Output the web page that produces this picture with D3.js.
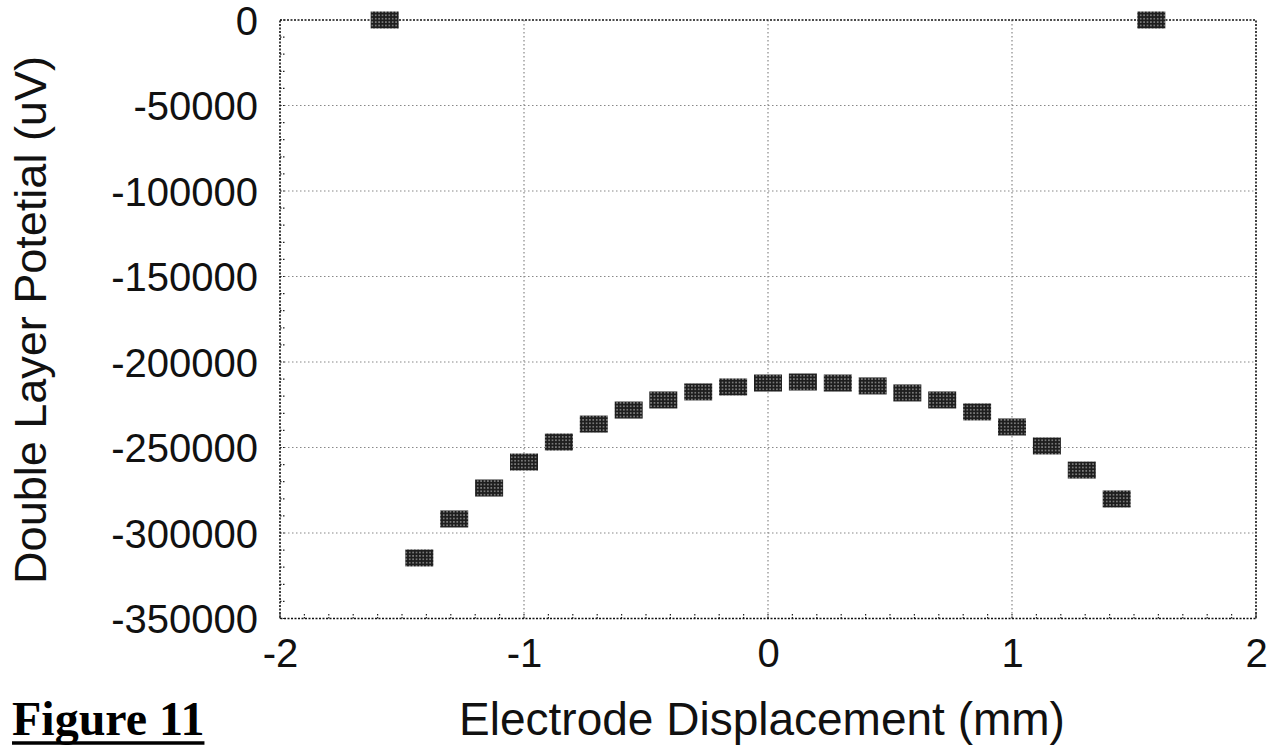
<!DOCTYPE html>
<html>
<head>
<meta charset="utf-8">
<script src="https://cdn.jsdelivr.net/npm/d3@7"></script>
<style>
  body { margin: 0; background: #fff; }
  svg { display: block; }
</style>
</head>
<body>
<div id="chart"></div>
<script>
// electrode displacement (mm) and double layer potential (uV)
const displacement = [-1.571, -1.429, -1.286, -1.143, -1.0, -0.857, -0.714, -0.571, -0.429, -0.286, -0.143,
  0.0, 0.143, 0.286, 0.429, 0.571, 0.714, 0.857, 1.0, 1.143, 1.286, 1.429, 1.571]
const potential = [0, -314600, -291800, -273700, -258500, -246800, -236300, -228100, -222200, -217500, -214600,
  -212300, -211700, -212300, -214000, -218100, -222200, -229200, -238000, -249100, -263200, -280100, 0]

const xTicks = [-2, -1, 0, 1, 2]
const yTicks = [0, -50000, -100000, -150000, -200000, -250000, -300000, -350000]

const width = 1271, height = 751
const plotL = 280, plotR = 1256, plotT = 20, plotB = 618.5

let svg = d3.select('#chart')
  .append('svg')
  .attr('width', width)
  .attr('height', height)

// halftone look for the markers
let pat = svg.append('defs').append('pattern')
  .attr('id', 'dots')
  .attr('patternUnits', 'userSpaceOnUse')
  .attr('width', 3.4)
  .attr('height', 3.4)
pat.append('rect').attr('width', 3.4).attr('height', 3.4).attr('fill', '#1e1e1e')
pat.append('circle').attr('cx', 1.7).attr('cy', 1.7).attr('r', 0.8).attr('fill', '#a0a0a0')

let x = d3.scaleLinear().domain([-2, 2]).range([plotL, plotR])
let y = d3.scaleLinear().domain([-350000, 0]).range([plotB, plotT])

// grid
let grid = svg.append('g')
grid.selectAll('.gx').data(xTicks.slice(1, -1)).enter().append('line')
  .attr('x1', d => x(d)).attr('x2', d => x(d))
  .attr('y1', plotT).attr('y2', plotB)
  .attr('stroke', '#888').attr('stroke-width', 1.2)
  .attr('stroke-dasharray', '1.5,2.5')
grid.selectAll('.gy').data(yTicks.slice(1, -1)).enter().append('line')
  .attr('x1', plotL).attr('x2', plotR)
  .attr('y1', d => y(d)).attr('y2', d => y(d))
  .attr('stroke', '#888').attr('stroke-width', 1.2)
  .attr('stroke-dasharray', '1.5,2.5')

// minor ticks, inward on left and bottom
let minorY = d3.range(-350000, 1, 10000)
let minorX = d3.range(-20, 21).map(d => d / 10)
svg.append('g').selectAll('line').data(minorY).enter().append('line')
  .attr('x1', plotL).attr('x2', plotL + 6)
  .attr('y1', d => y(d)).attr('y2', d => y(d))
  .attr('stroke', '#222').attr('stroke-width', 1.2)
  .attr('stroke-dasharray', '1.5,1.5')
svg.append('g').selectAll('line').data(minorX).enter().append('line')
  .attr('x1', d => x(d)).attr('x2', d => x(d))
  .attr('y1', plotB).attr('y2', plotB - 6)
  .attr('stroke', '#222').attr('stroke-width', 1.2)
  .attr('stroke-dasharray', '1.5,1.5')

// frame
svg.append('rect')
  .attr('x', plotL).attr('y', plotT)
  .attr('width', plotR - plotL).attr('height', plotB - plotT)
  .attr('fill', 'none')
  .attr('stroke', '#111').attr('stroke-width', 1.6)
  .attr('stroke-dasharray', '2,1.5')

// axes labels via d3 axes (plain hyphen for the minus sign)
let yAxis = svg.append('g')
  .attr('transform', `translate(${plotL},0)`)
  .call(d3.axisLeft(y).tickValues(yTicks).tickSize(0).tickPadding(22).tickFormat(d => String(d)))
yAxis.select('.domain').remove()
yAxis.selectAll('.tick text')
  .attr('font-family', '"Liberation Sans", Arial, sans-serif')
  .attr('font-size', 40)
  .attr('fill', '#111')
  .attr('dy', '0.36em')

let xAxis = svg.append('g')
  .attr('transform', `translate(0,${plotB})`)
  .call(d3.axisBottom(x).tickValues(xTicks).tickSize(0).tickPadding(20).tickFormat(d => String(d)))
xAxis.select('.domain').remove()
xAxis.selectAll('.tick text')
  .attr('font-family', '"Liberation Sans", Arial, sans-serif')
  .attr('font-size', 40)
  .attr('fill', '#111')

// markers
svg.append('g').selectAll('rect').data(displacement).enter().append('rect')
  .attr('x', d => x(d) - 14)
  .attr('y', (d, i) => y(potential[i]) - 8.5)
  .attr('width', 28)
  .attr('height', 17)
  .attr('fill', 'url(#dots)')

// titles
svg.append('text')
  .attr('x', (plotL + plotR) / 2 - 6)
  .attr('y', 735)
  .attr('text-anchor', 'middle')
  .attr('font-family', '"Liberation Sans", Arial, sans-serif')
  .attr('font-size', 46)
  .attr('fill', '#111')
  .text('Electrode Displacement (mm)')

svg.append('text')
  .attr('transform', 'translate(46,320) rotate(-90)')
  .attr('text-anchor', 'middle')
  .attr('font-family', '"Liberation Sans", Arial, sans-serif')
  .attr('font-size', 45)
  .attr('fill', '#111')
  .text('Double Layer Potetial (uV)')

let fig = svg.append('text')
  .attr('x', 12)
  .attr('y', 735)
  .attr('font-family', '"Liberation Serif", "Times New Roman", serif')
  .attr('font-weight', 'bold')
  .attr('font-size', 48)
  .attr('fill', '#000')
  .text('Figure 11')
let fw = fig.node().getComputedTextLength()
svg.append('line')
  .attr('x1', 12).attr('x2', 12 + fw)
  .attr('y1', 743).attr('y2', 743)
  .attr('stroke', '#000').attr('stroke-width', 3.5)
</script>
</body>
</html>
